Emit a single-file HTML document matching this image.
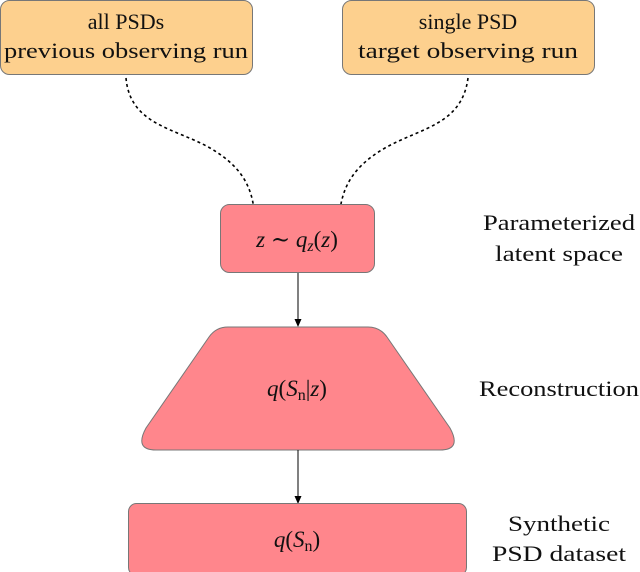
<!DOCTYPE html>
<html><head><meta charset="utf-8"><style>
html,body{margin:0;padding:0;background:#fff}
svg{display:block}
text{font-family:"Liberation Serif","DejaVu Serif",serif;fill:#111}
.m{font-style:italic}
</style></head><body>
<svg width="640" height="572" viewBox="0 0 640 572" xmlns="http://www.w3.org/2000/svg">
<defs>
<marker id="a" markerWidth="8" markerHeight="8" refX="7" refY="4" orient="auto" markerUnits="userSpaceOnUse">
<path d="M0,0.5 L8,4 L0,7.5 Z" fill="#000"/>
</marker>
</defs>
<!-- top boxes -->
<rect x="0.5" y="0.5" width="252" height="74" rx="9" fill="#FDD08E" stroke="#777" stroke-width="1"/>
<rect x="342.5" y="0.5" width="252" height="74" rx="9" fill="#FDD08E" stroke="#777" stroke-width="1"/>
<text x="126" y="29" font-size="22" text-anchor="middle">all PSDs</text>
<text x="126" y="58" font-size="22" text-anchor="middle" textLength="244" lengthAdjust="spacingAndGlyphs">previous observing run</text>
<text x="468" y="29" font-size="22" text-anchor="middle">single PSD</text>
<text x="468" y="58" font-size="22" text-anchor="middle" textLength="220" lengthAdjust="spacingAndGlyphs">target observing run</text>
<!-- dotted curves -->
<path d="M126,78 C130,125 175,128 210,148 C248,170 255,195 255,228" fill="none" stroke="#000" stroke-width="1.6" stroke-dasharray="3,3" marker-end="url(#a)"/>
<path d="M468,78 C462,125 420,128 385,148 C347,170 339,195 339,228" fill="none" stroke="#000" stroke-width="1.6" stroke-dasharray="3,3" marker-end="url(#a)"/>
<!-- latent box -->
<rect x="220.5" y="204.5" width="154" height="68" rx="9" fill="#FF868C" stroke="#777" stroke-width="1"/>
<text x="297" y="247" font-size="23" text-anchor="middle"><tspan class="m">z</tspan> ∼ <tspan class="m">q</tspan><tspan class="m" font-size="16" dy="4">z</tspan><tspan dy="-4">(</tspan><tspan class="m">z</tspan>)</text>
<!-- arrow 1 -->
<line x1="298" y1="273" x2="298" y2="326" stroke="#000" stroke-width="1" marker-end="url(#a)"/>
<!-- trapezoid -->
<path d="M228,327 L368,327 Q380,327 387,337 L450,428 Q462,450 440,450 L156,450 Q134,450 146,428 L209,337 Q216,327 228,327 Z" fill="#FF868C" stroke="#777" stroke-width="1"/>
<text x="297" y="396" font-size="23" text-anchor="middle"><tspan class="m">q</tspan>(<tspan class="m">S</tspan><tspan font-size="16" dy="4">n</tspan><tspan dy="-4">|</tspan><tspan class="m">z</tspan>)</text>
<!-- arrow 2 -->
<line x1="298" y1="450" x2="298" y2="503" stroke="#000" stroke-width="1" marker-end="url(#a)"/>
<!-- bottom box -->
<rect x="128.5" y="503.5" width="338" height="72" rx="8" fill="#FF868C" stroke="#777" stroke-width="1"/>
<text x="297" y="547" font-size="23" text-anchor="middle"><tspan class="m">q</tspan>(<tspan class="m">S</tspan><tspan font-size="16" dy="4">n</tspan><tspan dy="-4">)</tspan></text>
<!-- side labels -->
<text x="559" y="230" font-size="22" text-anchor="middle" textLength="152" lengthAdjust="spacingAndGlyphs">Parameterized</text>
<text x="559" y="261" font-size="22" text-anchor="middle" textLength="128" lengthAdjust="spacingAndGlyphs">latent space</text>
<text x="559" y="396" font-size="22" text-anchor="middle" textLength="160" lengthAdjust="spacingAndGlyphs">Reconstruction</text>
<text x="559" y="531" font-size="22" text-anchor="middle" textLength="102" lengthAdjust="spacingAndGlyphs">Synthetic</text>
<text x="559" y="561" font-size="22" text-anchor="middle" textLength="134" lengthAdjust="spacingAndGlyphs">PSD dataset</text>
</svg>
</body></html>
